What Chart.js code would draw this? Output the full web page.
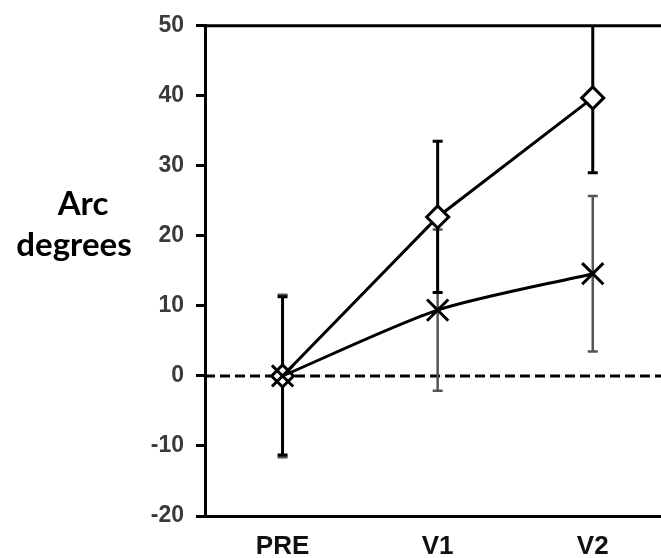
<!DOCTYPE html>
<html>
<head>
<meta charset="utf-8">
<script src="https://cdn.jsdelivr.net/npm/chart.js@4/dist/chart.umd.min.js"></script>
<style>
body { margin: 0; background: #fff; }
#wrap { width: 661px; height: 558px; position: relative; }
</style>
</head>
<body>
<div id="wrap"><canvas id="chart"></canvas></div>
<script>
'use strict';

/******************************************************************************************
DATA
******************************************************************************************/

var visits = ['PRE', 'V1', 'V2'];
var diamond_values = [0, 22.7, 39.7];
var diamond_errors = [11.3, 10.8, 10.7];
var cross_values = [0, 9.4, 14.6];
var cross_errors = [11.6, 11.5, 11.1];
var y_ticks = [-20, -10, 0, 10, 20, 30, 40, 50];
var y_title = ['Arc', 'degrees'];


function to_points(values) {
    return values.map(function(v, i) { return { x: i, y: v }; });
}


/******************************************************************************************
PLUGINS
******************************************************************************************/

// dashed zero line + error bars, drawn under the markers
var error_bars = {
    id: 'error_bars',
    beforeDatasetsDraw: function(chart) {
        var ctx = chart.ctx;
        var xs = chart.scales.x;
        var ys = chart.scales.y;
        var area = chart.chartArea;
        ctx.save();
        ctx.beginPath();
        ctx.rect(area.left, area.top, area.right - area.left, area.bottom - area.top);
        ctx.clip();

        // zero line
        ctx.beginPath();
        ctx.setLineDash([10, 5]);
        ctx.lineWidth = 3;
        ctx.strokeStyle = '#000';
        ctx.moveTo(area.left, ys.getPixelForValue(0));
        ctx.lineTo(area.right, ys.getPixelForValue(0));
        ctx.stroke();
        ctx.setLineDash([]);

        // error bars, grey set first so black sits on top
        chart.data.datasets.slice().reverse().forEach(function(ds) {
            ctx.strokeStyle = ds.errorColor;
            ctx.lineWidth = ds.errorWidth;
            ds.data.forEach(function(p, i) {
                var px = xs.getPixelForValue(p.x);
                var top = ys.getPixelForValue(p.y + ds.errors[i]);
                var bot = ys.getPixelForValue(p.y - ds.errors[i]);
                ctx.beginPath();
                ctx.moveTo(px, top); ctx.lineTo(px, bot);
                ctx.moveTo(px - 5, top); ctx.lineTo(px + 5, top);
                ctx.moveTo(px - 5, bot); ctx.lineTo(px + 5, bot);
                ctx.stroke();
            });
        });
        ctx.restore();
    }
};

// top frame line and the horizontal y title
var frame_and_title = {
    id: 'frame_and_title',
    afterDraw: function(chart) {
        var ctx = chart.ctx;
        var area = chart.chartArea;
        ctx.save();
        ctx.beginPath();
        ctx.lineWidth = 3;
        ctx.strokeStyle = '#000';
        ctx.moveTo(area.left - 1.5, area.top);
        ctx.lineTo(area.right, area.top);
        ctx.stroke();

        ctx.fillStyle = '#000';
        ctx.font = 'bold 33px Lato';
        ctx.textAlign = 'center';
        ctx.textBaseline = 'middle';
        ctx.fillText(y_title[0], 83, 204);
        ctx.fillText(y_title[1], 74, 245);
        ctx.restore();
    }
};


/******************************************************************************************
CHART
******************************************************************************************/

var ctx = document.getElementById('chart').getContext('2d');
var chart = new Chart(ctx, {
    type: 'line',
    data: {
        datasets: [{
            label: 'diamond',
            data: to_points(diamond_values),
            errors: diamond_errors,
            errorColor: '#000',
            errorWidth: 3,
            order: 1,
            borderColor: '#000',
            borderWidth: 3,
            pointStyle: 'rectRot',
            pointRadius: 11,
            pointBorderWidth: 3,
            pointBackgroundColor: '#fff',
            pointBorderColor: '#000',
            tension: 0
        }, {
            label: 'cross',
            data: to_points(cross_values),
            errors: cross_errors,
            errorColor: '#555',
            errorWidth: 2.5,
            order: 0,
            borderColor: '#000',
            borderWidth: 3,
            pointStyle: 'crossRot',
            pointRadius: 15,
            pointBorderWidth: 3,
            pointBorderColor: '#000',
            tension: 0.25
        }]
    },
    options: {
        responsive: true,
        maintainAspectRatio: false,
        animation: false,
        layout: { autoPadding: false, padding: { top: 24, right: 0, left: 0, bottom: 0 } },
        plugins: {
            legend: { display: false },
            tooltip: { enabled: false }
        },
        scales: {
            x: {
                type: 'linear',
                min: -0.5,
                max: 2.44,
                afterBuildTicks: function(scale) {
                    scale.ticks = visits.map(function(v, i) { return { value: i }; });
                },
                afterFit: function(scale) {
                    scale.height = 42;
                    scale.paddingLeft = 0;
                    scale.paddingRight = 0;
                },
                grid: { display: false, drawTicks: false },
                border: { display: true, color: '#000', width: 3 },
                ticks: {
                    padding: 15,
                    color: '#111',
                    font: { family: 'Liberation Sans', size: 26, weight: 'bold' },
                    callback: function(value) { return visits[value]; }
                }
            },
            y: {
                min: -20,
                max: 50,
                afterBuildTicks: function(scale) {
                    scale.ticks = y_ticks.map(function(v) { return { value: v }; });
                },
                afterFit: function(scale) { scale.width = 205; },
                grid: { drawOnChartArea: false, tickLength: 9, tickColor: '#000', tickWidth: 3 },
                border: { display: true, color: '#000', width: 3 },
                ticks: {
                    padding: 12,
                    color: '#3a3a3a',
                    font: { family: 'Liberation Sans', size: 23, weight: 'bold' }
                }
            }
        }
    },
    plugins: [error_bars, frame_and_title]
});
</script>
</body>
</html>
